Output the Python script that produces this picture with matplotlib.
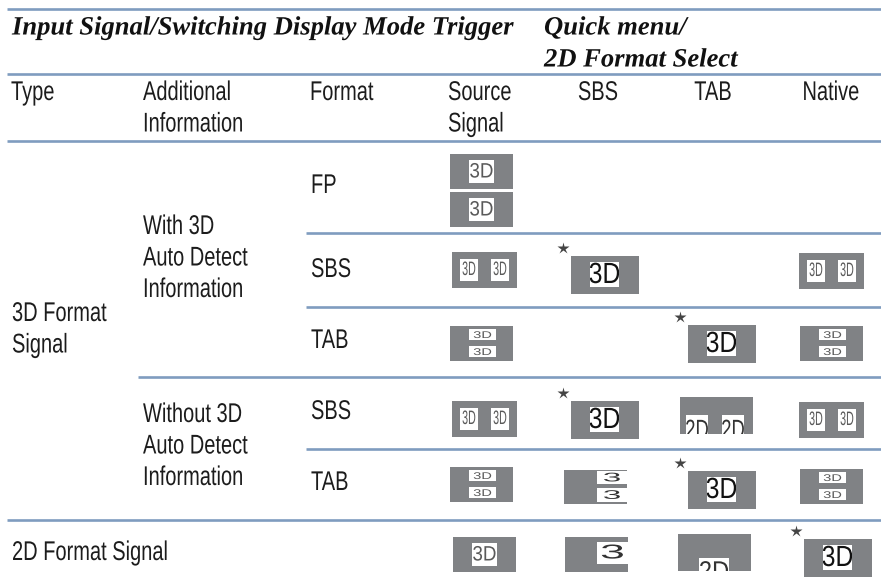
import matplotlib
matplotlib.use('Agg')
import matplotlib.pyplot as plt
import matplotlib.patheffects as pe
from matplotlib.patches import Rectangle
from matplotlib.transforms import Affine2D

W, H = 881, 583
LINE = '#7f9cbf'
GREY = '#808285'
INK = '#1c1c1c'
SANS = 'Liberation Sans'
SERIF = 'Liberation Serif'

header_left = 'Input Signal/Switching Display Mode Trigger'
header_right = ['Quick menu/', '2D Format Select']
columns = [['Type'], ['Additional', 'Information'], ['Format'], ['Source', 'Signal'], ['SBS'], ['TAB'], ['Native']]
groups = [['With 3D', 'Auto Detect', 'Information'], ['Without 3D', 'Auto Detect', 'Information']]
types = [['3D Format', 'Signal'], ['2D Format Signal']]
formats = ['FP', 'SBS', 'TAB', 'SBS', 'TAB']

fig = plt.figure(figsize=(W/100, H/100), dpi=100)
ax = fig.add_axes([0, 0, 1, 1])
ax.set_xlim(0, W)
ax.set_ylim(H, 0)
ax.axis('off')


class Squeeze(pe.AbstractPathEffect):
    # real text, only drawn narrower or wider around its anchor
    def __init__(self, x0, y0, sx=1.0, sy=1.0):
        super().__init__()
        self.x0, self.y0, self.sx, self.sy = x0, H - y0, sx, sy

    def draw_path(self, renderer, gc, tpath, affine, rgbFace=None):
        t = Affine2D().translate(-self.x0, -self.y0).scale(self.sx, self.sy).translate(self.x0, self.y0)
        renderer.draw_path(gc, tpath, affine + t, rgbFace)


def rule(y, x0=7, lw=1.9):
    ax.plot([x0, W], [y, y], color=LINE, lw=lw, solid_capstyle='butt')


def sans(x, y, lines, ha='left', gap=31.5):
    for i, s in enumerate(lines):
        yy = y + i*gap
        t = ax.text(x, yy, s, ha=ha, va='center', fontsize=19.5, family=SANS, color=INK)
        t.set_path_effects([Squeeze(x, yy, 0.74)])


def serif(x, y, s):
    t = ax.text(x, y, s, ha='left', va='center', fontsize=19, family=SERIF,
                style='italic', weight='bold', color='#111111')
    t.set_path_effects([Squeeze(x, y, 1.008)])


def box(x, y, w, h, color=GREY):
    ax.add_patch(Rectangle((x, y), w, h, fc=color, ec='none'))


def label(x, y, w, h, s, size, color, sx=1.0, sy=1.0, dy=0.5):
    r = Rectangle((x, y), w, h, fc='white', ec='none')
    ax.add_patch(r)
    cx, cy = x + w/2, y + h/2 + dy
    t = ax.text(cx, cy, s, ha='center', va='center', fontsize=size, family=SANS, color=color)
    t.set_path_effects([Squeeze(cx, cy, sx, sy)])
    t.set_clip_path(r)
    t.set_clip_on(True)


def thumb_one(x, y):
    box(x, y, 63, 35)
    label(x + 19, y + 6, 25, 23, '3D', 15, '#5a5a5a', sx=0.9)


def thumb_sbs(x, y):
    box(x, y, 65, 36)
    label(x + 8, y + 7, 18, 22, '3D', 14, '#5a5a5a', sx=0.55)
    label(x + 39, y + 7, 18, 22, '3D', 14, '#5a5a5a', sx=0.55)


def thumb_tab(x, y):
    box(x, y, 63, 35)
    label(x + 19, y + 3, 27, 11, '3D', 7, '#5a5a5a', sx=1.5)
    label(x + 19, y + 20, 27, 11, '3D', 7, '#5a5a5a', sx=1.5)


def thumb_big(x, y):
    ax.plot([x - 8], [y - 8], marker='*', ms=9, color='#444444', mec='none')
    box(x, y, 68, 38)
    label(x + 19, y + 6, 29, 25, '3D', 21, '#111111', sx=0.85)


def thumb_sbs_crop(x, y):
    box(x, y, 73, 37)
    label(x + 6, y + 18, 22, 19, '2D', 19, '#333333', sx=0.7, dy=6.5)
    label(x + 42, y + 18, 22, 19, '2D', 19, '#333333', sx=0.7, dy=6.5)


def thumb_tab_crop(x, y):
    box(x, y, 63, 34)
    label(x + 33, y + 1, 30, 13, '3', 12, '#333333', sx=2.0, sy=0.75)
    label(x + 33, y + 18, 30, 14, '3', 12, '#333333', sx=2.0, sy=0.75)


for y, x0 in [(9, 7), (74, 7), (141, 7), (233, 306), (307, 306), (377, 138), (449, 306), (520, 7)]:
    rule(y, x0)

serif(12, 28, header_left)
for i, s in enumerate(header_right):
    serif(544, 28 + i*32, s)

col_x = [11, 143, 310, 448]
for x, c in zip(col_x, columns[:4]):
    sans(x, 93, c)
for x, c in zip([598, 713, 831], columns[4:]):
    sans(x, 93, c, ha='center')

sans(12, 314, types[0])
sans(12, 553, types[1])
sans(143, 227, groups[0])
sans(143, 415, groups[1])
for y, s in zip([186, 270, 341, 412, 483], formats):
    sans(311, y, [s])

# row FP
thumb_one(450, 154)
thumb_one(450, 192)
# row SBS with info
thumb_sbs(452, 252)
thumb_big(571, 256)
thumb_sbs(799, 253)
# row TAB with info
thumb_tab(450, 326)
thumb_big(688, 325)
thumb_tab(800, 326)
# row SBS without info
thumb_sbs(452, 401)
thumb_big(571, 401)
thumb_sbs_crop(680, 397)
thumb_sbs(799, 402)
# row TAB without info
thumb_tab(450, 467)
thumb_tab_crop(564, 470)
thumb_big(688, 471)
thumb_tab(800, 469)
# row 2D
thumb_one(453, 537)
box(565, 537, 63, 35)
label(597, 542, 31, 22, '3', 16, '#333333', sx=2.0, sy=0.9)
box(678, 534, 73, 37)
label(699, 558, 30, 13, '2D', 19, '#333333', sx=0.9, dy=8)
thumb_big(804, 539)

fig.savefig('out.png', dpi=100)
